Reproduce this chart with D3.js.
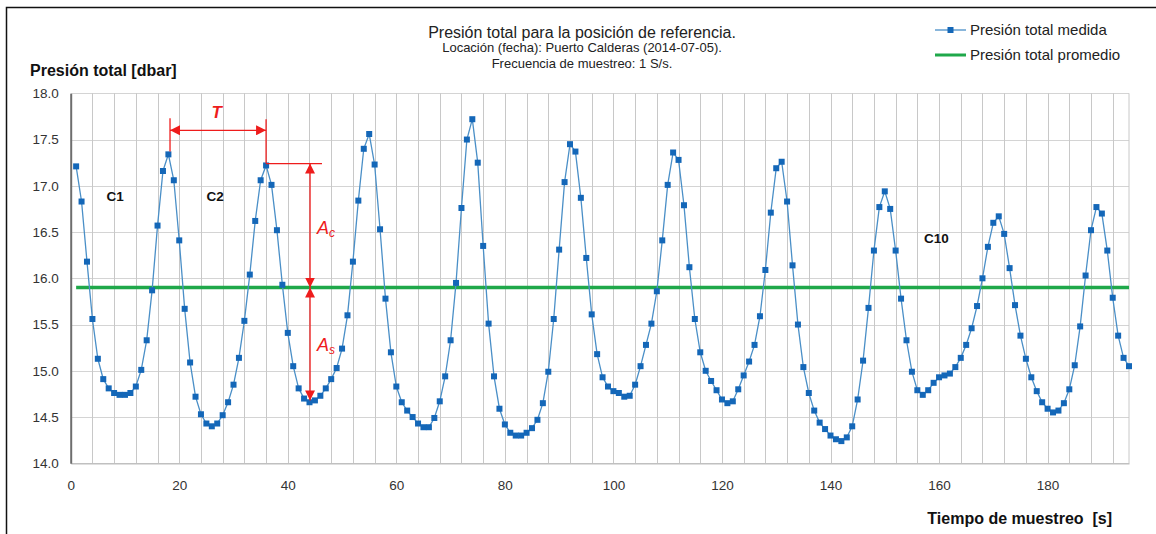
<!DOCTYPE html>
<html>
<head>
<meta charset="utf-8">
<script src="https://cdn.jsdelivr.net/npm/d3@7"></script>
<style>
  body { margin: 0; background: #fff; }
  text { font-family: "Liberation Sans", Arial, sans-serif; }
</style>
</head>
<body>
<div id="chart"></div>
<script>
// Presión total medida, una muestra por segundo (t = 1..195)
const presionMedida = [
  17.21, 16.83, 16.18, 15.56, 15.13, 14.91, 14.81, 14.76, 14.74, 14.74,
  14.76, 14.83, 15.01, 15.33, 15.87, 16.57, 17.16, 17.34, 17.06, 16.41,
  15.67, 15.09, 14.72, 14.53, 14.43, 14.40, 14.43, 14.52, 14.66, 14.85,
  15.14, 15.54, 16.04, 16.62, 17.06, 17.22, 17.01, 16.52, 15.93, 15.41,
  15.05, 14.81, 14.70, 14.66, 14.68, 14.73, 14.81, 14.91, 15.03, 15.24,
  15.60, 16.18, 16.84, 17.40, 17.56, 17.23, 16.53, 15.78, 15.20, 14.83,
  14.66, 14.57, 14.50, 14.43, 14.39, 14.39, 14.49, 14.67, 14.94, 15.33,
  15.95, 16.76, 17.50, 17.72, 17.25, 16.35, 15.51, 14.94, 14.59, 14.42,
  14.33, 14.30, 14.30, 14.33, 14.38, 14.47, 14.65, 14.99, 15.56, 16.31,
  17.04, 17.45, 17.37, 16.87, 16.22, 15.61, 15.18, 14.93, 14.83, 14.78,
  14.76, 14.72, 14.73, 14.85, 15.05, 15.28, 15.51, 15.86, 16.41, 17.01,
  17.36, 17.28, 16.79, 16.12, 15.56, 15.20, 15.00, 14.89, 14.79, 14.69,
  14.65, 14.67, 14.80, 14.95, 15.10, 15.28, 15.59, 16.09, 16.71, 17.19,
  17.26, 16.83, 16.14, 15.50, 15.04, 14.76, 14.57, 14.44, 14.37, 14.30,
  14.26, 14.24, 14.28, 14.40, 14.69, 15.11, 15.68, 16.30, 16.77, 16.94,
  16.75, 16.30, 15.78, 15.33, 14.99, 14.79, 14.74, 14.79, 14.87, 14.93,
  14.95, 14.97, 15.04, 15.14, 15.28, 15.46, 15.70, 16.00, 16.34, 16.60,
  16.67, 16.48, 16.11, 15.71, 15.38, 15.13, 14.93, 14.78, 14.66, 14.59,
  14.55, 14.57, 14.65, 14.80, 15.06, 15.48, 16.03, 16.52, 16.77, 16.70,
  16.30, 15.79, 15.38, 15.14, 15.05
];
const tiempo = presionMedida.map(function(d, i) { return i + 1; });
const presionPromedio = 15.9;

const yTicks = [14.0, 14.5, 15.0, 15.5, 16.0, 16.5, 17.0, 17.5, 18.0];
const xTicks = [0, 20, 40, 60, 80, 100, 120, 140, 160, 180];
const xGrid = d3.range(4, 195, 4);

// etiquetas de ciclos (coordenadas de datos)
const ciclos = [
  { label: "C1", t: 8.2, p: 16.89 },
  { label: "C2", t: 26.6, p: 16.89 },
  { label: "C10", t: 159.5, p: 16.44 }
];

const width = 1156, height = 534;

const svg = d3.select("#chart").append("svg")
  .attr("width", width)
  .attr("height", height);

// borde del área del gráfico (solo arriba e izquierda visibles)
svg.append("path")
  .attr("d", "M6.5,534 L6.5,7.5 L1156,7.5")
  .attr("fill", "none")
  .attr("stroke", "#111")
  .attr("stroke-width", 1.5);

const x = d3.scaleLinear().domain([0, 195]).range([70.7, 1129]);
const y = d3.scaleLinear().domain([14, 18]).range([463.3, 93.3]);

// cuadrícula
const grid = svg.append("g");
grid.selectAll("line.h")
  .data(yTicks.slice(1))
  .enter().append("line")
    .attr("x1", x(0)).attr("x2", x(195))
    .attr("y1", function(d) { return Math.round(y(d)) + 0.5; })
    .attr("y2", function(d) { return Math.round(y(d)) + 0.5; })
    .attr("stroke", "#d4d4d4");
grid.selectAll("line.v")
  .data(xGrid)
  .enter().append("line")
    .attr("x1", function(d) { return Math.round(x(d)) + 0.5; })
    .attr("x2", function(d) { return Math.round(x(d)) + 0.5; })
    .attr("y1", y(18)).attr("y2", y(14))
    .attr("stroke", "#c8c8c8");
// borde derecho del área de trazado
grid.append("line")
  .attr("x1", x(195)).attr("x2", x(195))
  .attr("y1", y(18)).attr("y2", y(14))
  .attr("stroke", "#c8c8c8");

// ejes
const xAxis = svg.append("g")
  .attr("transform", "translate(0," + y(14) + ")")
  .call(d3.axisBottom(x).tickValues(xTicks).tickSize(0).tickPadding(17).tickFormat(d3.format("d")));
xAxis.select(".domain").attr("stroke", "#c0c0c0").attr("stroke-width", 1.5);

const yAxis = svg.append("g")
  .attr("transform", "translate(" + x(0) + ",0)")
  .call(d3.axisLeft(y).tickValues(yTicks).tickSize(0).tickPadding(12).tickFormat(d3.format(".1f")));
yAxis.select(".domain").attr("stroke", "#6e6e6e").attr("stroke-width", 2);

svg.selectAll(".tick text")
  .style("font-family", "'Liberation Sans', Arial, sans-serif")
  .style("font-size", "13.5px")
  .attr("fill", "#333");

// promedio
svg.append("line")
  .attr("x1", x(tiempo[0])).attr("x2", x(tiempo[tiempo.length - 1]))
  .attr("y1", y(presionPromedio)).attr("y2", y(presionPromedio))
  .attr("stroke", "#1fa84a")
  .attr("stroke-width", 3.5);

// serie medida
const line = d3.line()
  .x(function(d, i) { return x(tiempo[i]); })
  .y(function(d) { return y(d); });

svg.append("path")
  .datum(presionMedida)
  .attr("d", line)
  .attr("fill", "none")
  .attr("stroke", "#4a8fc7")
  .attr("stroke-width", 1.3);

svg.append("g").selectAll("rect")
  .data(presionMedida)
  .enter().append("rect")
    .attr("x", function(d, i) { return x(tiempo[i]) - 3; })
    .attr("y", function(d) { return y(d) - 3; })
    .attr("width", 6)
    .attr("height", 6)
    .attr("fill", "#1467b8");

// anotaciones en rojo
const red = "#ee1c1c";
const defs = svg.append("defs");
defs.append("marker")
  .attr("id", "arrow")
  .attr("viewBox", "0 0 10 10")
  .attr("refX", 10).attr("refY", 5)
  .attr("markerWidth", 10).attr("markerHeight", 10)
  .attr("markerUnits", "userSpaceOnUse")
  .attr("orient", "auto-start-reverse")
  .append("path")
    .attr("d", "M0,0 L10,5 L0,10 Z")
    .attr("fill", red);

const ann = svg.append("g").attr("stroke", red).attr("stroke-width", 1.3);
// T
ann.append("line")
  .attr("x1", x(18.3)).attr("x2", x(18.3)).attr("y1", y(17.73)).attr("y2", y(17.37));
ann.append("line")
  .attr("x1", x(36)).attr("x2", x(36)).attr("y1", y(17.72)).attr("y2", y(17.24));
ann.append("line")
  .attr("x1", x(18.3)).attr("x2", x(36)).attr("y1", y(17.6)).attr("y2", y(17.6))
  .attr("marker-start", "url(#arrow)").attr("marker-end", "url(#arrow)");
// amplitudes
ann.append("line")
  .attr("x1", x(36)).attr("x2", x(46.3)).attr("y1", y(17.24)).attr("y2", y(17.24));
ann.append("line")
  .attr("x1", x(44.1)).attr("x2", x(44.1)).attr("y1", y(17.24)).attr("y2", y(presionPromedio))
  .attr("marker-start", "url(#arrow)").attr("marker-end", "url(#arrow)");
ann.append("line")
  .attr("x1", x(44.1)).attr("x2", x(44.1)).attr("y1", y(presionPromedio)).attr("y2", y(14.68))
  .attr("marker-start", "url(#arrow)").attr("marker-end", "url(#arrow)");

svg.append("text")
  .attr("x", x(26.9)).attr("y", y(17.8) + 6)
  .attr("text-anchor", "middle")
  .attr("fill", red)
  .style("font-size", "17px").style("font-weight", "bold").style("font-style", "italic")
  .text("T");

[["c", 16.54], ["s", 15.28]].forEach(function(a) {
  const t = svg.append("text")
    .attr("x", x(45.4)).attr("y", y(a[1]) + 6)
    .attr("fill", red)
    .style("font-size", "18px").style("font-style", "italic");
  t.append("tspan").text("A");
  t.append("tspan").attr("dy", 3).style("font-size", "12px").text(a[0]);
});

svg.append("g").selectAll("text")
  .data(ciclos)
  .enter().append("text")
    .attr("x", function(d) { return x(d.t); })
    .attr("y", function(d) { return y(d.p) + 5; })
    .attr("text-anchor", "middle")
    .style("font-size", "13.5px").style("font-weight", "bold")
    .attr("fill", "#111")
    .text(function(d) { return d.label; });

// títulos
const title = svg.append("g").attr("text-anchor", "middle").attr("fill", "#222");
title.append("text").attr("x", 582).attr("y", 38).style("font-size", "16px")
  .text("Presión total para la posición de referencia.");
title.append("text").attr("x", 582).attr("y", 52).style("font-size", "13px")
  .text("Locación (fecha): Puerto Calderas (2014-07-05).");
title.append("text").attr("x", 582).attr("y", 67.5).style("font-size", "13px")
  .text("Frecuencia de muestreo: 1 S/s.");

svg.append("text")
  .attr("x", 30).attr("y", 76)
  .attr("fill", "#111")
  .style("font-size", "16px").style("font-weight", "bold")
  .text("Presión total [dbar]");

svg.append("text")
  .attr("x", 1112).attr("y", 524)
  .attr("text-anchor", "end")
  .attr("fill", "#111")
  .style("font-size", "16px").style("font-weight", "bold")
  .style("white-space", "pre")
  .text("Tiempo de muestreo  [s]");

// leyenda
const legend = svg.append("g").attr("transform", "translate(935,0)");
legend.append("line")
  .attr("x1", 0).attr("x2", 31).attr("y1", 30).attr("y2", 30)
  .attr("stroke", "#4a8fc7").attr("stroke-width", 1.3);
legend.append("rect")
  .attr("x", 12.5).attr("y", 27).attr("width", 6).attr("height", 6)
  .attr("fill", "#1467b8");
legend.append("line")
  .attr("x1", 0).attr("x2", 31).attr("y1", 55).attr("y2", 55)
  .attr("stroke", "#1fa84a").attr("stroke-width", 3);
legend.append("text").attr("x", 35).attr("y", 35)
  .attr("fill", "#222").style("font-size", "15px").text("Presión total medida");
legend.append("text").attr("x", 35).attr("y", 60)
  .attr("fill", "#222").style("font-size", "15px").text("Presión total promedio");
</script>
</body>
</html>
